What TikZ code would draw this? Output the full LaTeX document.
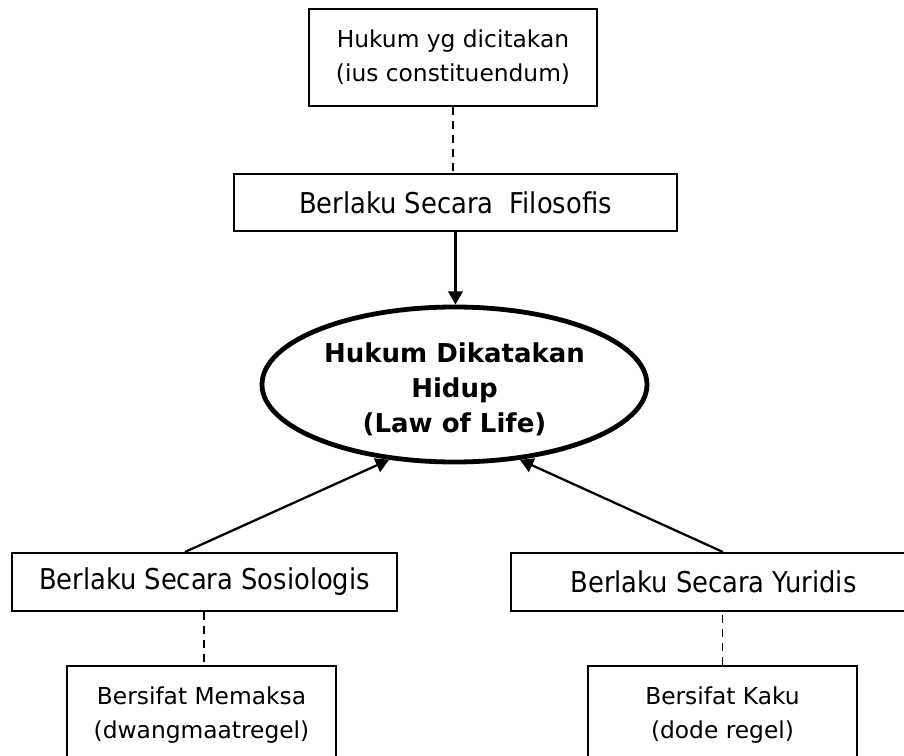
\documentclass[tikz,border=0pt]{standalone}
\usepackage{fontspec}
\setmainfont{DejaVu Sans}
\newfontfamily\condfont{DejaVu Sans Condensed}
\usetikzlibrary{shapes.geometric,arrows.meta}
\begin{document}
\begin{tikzpicture}[x=0.75pt,y=-0.75pt,
  box/.style={draw,line width=1.6pt,inner sep=0pt,align=center},
  conn/.style={line width=1.7pt,-{Triangle[length=10pt,width=11pt]}},
  dashline/.style={line width=1.4pt,dash pattern=on 6pt off 4.5pt},
  bigtxt/.style={font=\condfont\fontsize{21.5}{28}\selectfont},
  smalltxt/.style={font=\fontsize{17.5}{25.5}\selectfont}]
\useasboundingbox (0,0) rectangle (904,756);
\clip (0,0) rectangle (904,756);
\fill[white] (0,0) rectangle (904,756);
\node[box,smalltxt,minimum width=216pt,minimum height=72.75pt] (top) at (453,57.5) {Hukum yg dicitakan\\(ius constituendum)};
\node[box,bigtxt,minimum width=332.25pt,minimum height=42.75pt] (filo) at (455.5,202.5) {Berlaku Secara\ \ Filosofis};
\node[ellipse,draw,line width=3.6pt,inner sep=0pt,minimum width=288.75pt,minimum height=116.25pt] (ell) at (454.5,384.5) {};
\node[align=center,inner sep=0pt,font=\bfseries\fontsize{19.5}{26.25}\selectfont] (elltxt) at ([yshift=-4pt]ell.center) {Hukum Dikatakan\\Hidup\\(Law of Life)};
\node[box,bigtxt,minimum width=288.75pt,minimum height=43.5pt] (soc) at (204.5,582) {Berlaku Secara Sosiologis};
\node[box,bigtxt,minimum width=303.75pt,minimum height=43.5pt] (yur) at (713.5,582) {Berlaku Secara Yuridis};
\node[box,smalltxt,minimum width=201.75pt,minimum height=73.5pt] (mem) at (201.5,715) {Bersifat Memaksa\\(dwangmaatregel)};
\node[box,smalltxt,minimum width=201.75pt,minimum height=73.5pt] (kaku) at (722.5,715) {Bersifat Kaku\\(dode regel)};
\draw[dashline] (top.south) -- (top.south |- filo.north);
\draw[conn] (filo.south) -- (filo.south |- ell.north);
\draw[conn] ([xshift=-14.6pt]soc.north) -- (ell.229);
\draw[conn] ([xshift=7pt]yur.north) -- (ell.311);
\draw[dashline] ([xshift=-0.4pt]soc.south) -- ([xshift=-0.4pt]soc.south |- mem.north);
\draw[dashline] (kaku.north) -- (kaku.north |- yur.south);
\end{tikzpicture}
\end{document}
